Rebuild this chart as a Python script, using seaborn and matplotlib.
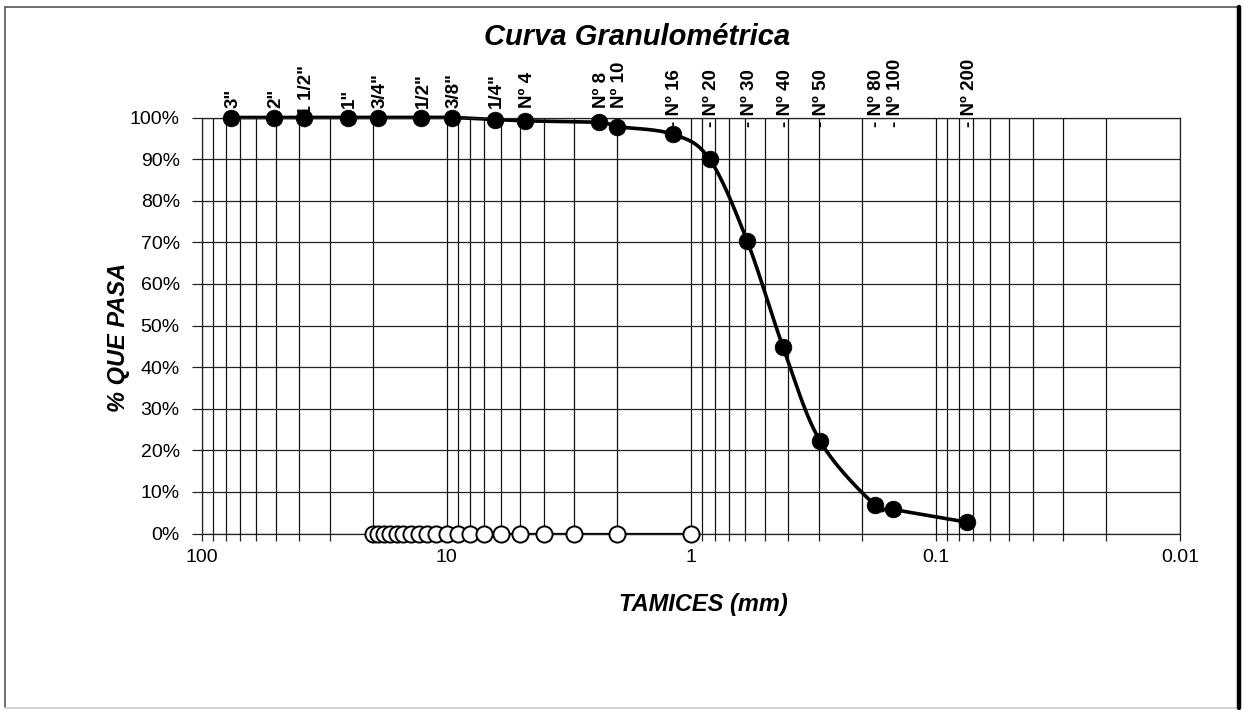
import numpy as np
import pandas as pd
import matplotlib
matplotlib.use('Agg')
import matplotlib.pyplot as plt
import seaborn as sns
from matplotlib.ticker import FuncFormatter, LogLocator, NullFormatter, PercentFormatter
from matplotlib.lines import Line2D

# tamices y porcentaje que pasa
tamices = ['3"', '2"', '1 1/2"', '1"', '3/4"', '1/2"', '3/8"', '1/4"', 'Nº 4', 'Nº 8',
           'Nº 10', 'Nº 16', 'Nº 20', 'Nº 30', 'Nº 40', 'Nº 50', 'Nº 80', 'Nº 100', 'Nº 200']
con_guion = [False, False, True, False, False, False, False, False, False, False,
             False, True, True, True, True, True, True, True, True]
abertura_mm = [76.2, 50.8, 38.1, 25.4, 19.05, 12.7, 9.525, 6.35, 4.76, 2.38,
               2.0, 1.19, 0.84, 0.59, 0.42, 0.297, 0.177, 0.149, 0.074]
pasa = [1.0, 1.0, 1.0, 1.0, 1.0, 1.0, 1.0, 0.995, 0.992, 0.988,
        0.978, 0.960, 0.900, 0.704, 0.448, 0.223, 0.0685, 0.058, 0.027]

# segunda serie (puntos blancos sobre 0%)
serie2_mm = [20, 19, 18, 17, 16, 15, 14, 13, 12, 11, 10, 9, 8, 7, 6, 5, 4, 3, 2, 1]
serie2_pasa = [0, 0, 0, 0, 0, 0, 0, 0, 0, 0, 0, 0, 0, 0, 0, 0, 0, 0, 0, 0]

df = pd.DataFrame({'tamiz': tamices, 'abertura': abertura_mm, 'pasa': pasa})
df2 = pd.DataFrame({'abertura': serie2_mm, 'pasa': serie2_pasa})


def curva_suave(x, y, n=40):
    # suavizado tipo Excel (Bezier con tangentes de Catmull-Rom) en escala de pantalla
    u = np.log10(np.asarray(x, float)) * 244.5
    v = np.asarray(y, float) * 416
    pts = np.column_stack([u, v])
    t = np.linspace(0, 1, n)[:, None]
    out = []
    for i in range(len(pts) - 1):
        p0 = pts[max(i - 1, 0)]
        p1 = pts[i]
        p2 = pts[i + 1]
        p3 = pts[min(i + 2, len(pts) - 1)]
        c1 = p1 + (p2 - p0) / 6
        c2 = p2 - (p3 - p1) / 6
        seg = (1 - t) ** 3 * p1 + 3 * (1 - t) ** 2 * t * c1 + 3 * (1 - t) * t ** 2 * c2 + t ** 3 * p2
        out.append(seg if i == 0 else seg[1:])
    out = np.vstack(out)
    return pd.DataFrame({'abertura': 10 ** (out[:, 0] / 244.5), 'pasa': out[:, 1] / 416})


sns.set_theme(style='white')
plt.rcParams['font.family'] = ['Liberation Sans', 'DejaVu Sans']
plt.rcParams['text.color'] = 'black'
plt.rcParams['xtick.color'] = 'black'
plt.rcParams['ytick.color'] = 'black'

fig = plt.figure(figsize=(12.46, 7.10), dpi=100)
ax = fig.add_axes([202 / 1246, 1 - 533.5 / 710, (1180 - 202) / 1246, 416 / 710])

ax.set_xscale('log')
ax.set_xlim(100, 0.01)
ax.set_ylim(0, 1)
ax.xaxis.set_major_locator(LogLocator(base=10))
ax.xaxis.set_minor_locator(LogLocator(base=10, subs=np.arange(2, 10)))
ax.xaxis.set_major_formatter(FuncFormatter(lambda v, p: f'{v:g}'))
ax.xaxis.set_minor_formatter(NullFormatter())
ax.set_yticks(np.arange(0, 1.01, 0.1))
ax.yaxis.set_major_formatter(PercentFormatter(1, decimals=0))

ax.set_axisbelow(True)
ax.grid(which='both', axis='x', color='#111111', lw=0.9)
ax.grid(which='major', axis='y', color='#222222', lw=0.9)
for s in ax.spines.values():
    s.set_color('#222222')
    s.set_linewidth(0.9)

ax.tick_params(axis='x', which='both', direction='out', length=5, width=0.9, color='#222222',
               bottom=True, labelsize=14, pad=6, labelcolor='black')
ax.tick_params(axis='y', which='major', direction='out', length=7, width=0.9, color='#222222',
               left=True, labelsize=14, pad=9, labelcolor='black')

# serie blanca
sns.lineplot(data=df2, x='abertura', y='pasa', sort=False, estimator=None, color='black',
             lw=1.6, ax=ax)
sns.scatterplot(data=df2, x='abertura', y='pasa', marker='o', s=135, color='white',
                edgecolor='black', linewidth=1.4, ax=ax, zorder=4, clip_on=False)

# curva granulométrica
suave = curva_suave(df['abertura'], df['pasa'])
sns.lineplot(data=suave, x='abertura', y='pasa', sort=False, estimator=None, color='black',
             lw=2.6, ax=ax)
sns.scatterplot(data=df, x='abertura', y='pasa', marker='o', s=145, color='black',
                edgecolor='black', linewidth=0.5, ax=ax, zorder=5, clip_on=False)

for ln in ax.get_lines():
    ln.set_clip_on(False)

for nombre, x, guion in zip(tamices, abertura_mm, con_guion):
    texto = '- ' + nombre if guion else nombre
    dy = -6.5 if guion else 6.5
    ax.annotate(texto, xy=(x, 1), xytext=(1.5, dy), textcoords='offset points',
                rotation=90, ha='center', va='bottom', fontsize=13.5, fontweight='bold',
                annotation_clip=False, zorder=10)

ax.set_xlabel('')
ax.set_ylabel('')
fig.text(637 / 1246, 1 - 37 / 710, 'Curva Granulométrica', ha='center', va='center',
         fontsize=21, fontweight='bold', style='italic')
fig.text(703 / 1246, 1 - 605 / 710, 'TAMICES (mm)', ha='center', va='center',
         fontsize=17, fontweight='bold', style='italic')
fig.text(118 / 1246, 1 - 337 / 710, '% QUE PASA', ha='center', va='center', rotation=90,
         fontsize=17, fontweight='bold', style='italic')

# marco del gráfico
W, H = 1246, 710
fig.add_artist(Line2D([5 / W, 5 / W], [1 - 707 / H, 1 - 7 / H], color='#555555', lw=1.2))
fig.add_artist(Line2D([5 / W, 1239 / W], [1 - 7 / H, 1 - 7 / H], color='#555555', lw=1.2))
fig.add_artist(Line2D([5 / W, 1239 / W], [1 - 707.5 / H, 1 - 707.5 / H], color='#cccccc', lw=1.2))
fig.add_artist(Line2D([1239 / W, 1239 / W], [1 - 708 / H, 1 - 7 / H], color='black', lw=3.2))

fig.savefig('out.png', dpi=100)
